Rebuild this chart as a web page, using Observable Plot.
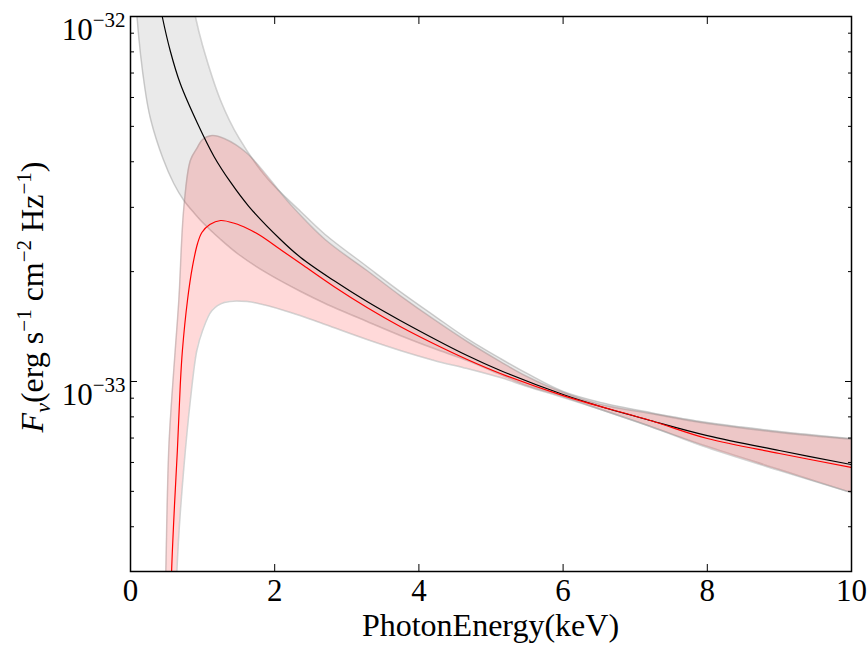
<!DOCTYPE html>
<html><head><meta charset="utf-8">
<script src="https://cdn.jsdelivr.net/npm/d3@7"></script>
<script src="https://cdn.jsdelivr.net/npm/@observablehq/plot@0.6"></script>
<style>body{margin:0;background:#fff;}</style>
</head><body><div id="chart"></div>
<script>
// Flux values are in units of 1e-33 erg s^-1 cm^-2 Hz^-1
const FLUX_UNIT = 1e-33;

// Black model (central curve)
const blackE    = [0.40, 0.44, 0.55, 0.69, 0.93, 1.16, 1.39, 1.64, 2.08, 2.36, 2.82, 3.28, 3.74, 4.67, 5.13, 6.0, 6.52, 7.21, 8.0, 9.0, 10];
const blackFlux = [11.0, 10.0, 8.07, 6.55, 5.09, 4.13, 3.51, 3.02, 2.45, 2.187, 1.89, 1.656, 1.47, 1.178, 1.072, 0.921, 0.854, 0.782, 0.711, 0.647, 0.592];

// Red model (central curve)
const redE    = [0.55, 0.57, 0.61, 0.65, 0.69, 0.72, 0.79, 0.86, 0.93, 0.99, 1.1, 1.25, 1.45, 1.62, 1.8, 2.08, 2.4, 2.82, 3.28, 3.74, 4.2, 4.67, 5.13, 6.0, 7.21, 8.0, 9.0, 10];
const redFlux = [0.2, 0.302, 0.457, 0.647, 0.975, 1.216, 1.667, 2.066, 2.388, 2.56, 2.692, 2.761, 2.709, 2.625, 2.512, 2.299, 2.078, 1.821, 1.595, 1.415, 1.271, 1.149, 1.052, 0.915, 0.782, 0.698, 0.635, 0.581];

// Grey uncertainty band (black model)
const greyE  = [0.02, 0.09, 0.2, 0.28, 0.45, 0.6, 0.74, 0.9, 1.0, 1.25, 1.5, 1.9, 2.36, 2.7, 3.28, 3.74, 4.21, 4.67, 5.13, 5.5, 6.0, 6.52, 7.21, 8.0, 9.0, 10];
const greyLo = [20, 10.0, 6.35, 5.22, 4.08, 3.487, 3.133, 2.868, 2.727, 2.449, 2.228, 1.977, 1.764, 1.636, 1.460, 1.337, 1.231, 1.142, 1.045, 0.975, 0.910, 0.838, 0.753, 0.664, 0.574, 0.496];
const greyHi = [229, 166, 100, 73, 39, 23.6, 15.0, 10.0, 8.33, 5.89, 4.662, 3.598, 2.923, 2.528, 2.066, 1.764, 1.516, 1.311, 1.156, 1.052, 0.939, 0.876, 0.822, 0.772, 0.730, 0.698];

// Pink uncertainty band (red model)
const pinkE  = [0.45, 0.49, 0.53, 0.57, 0.62, 0.67, 0.74, 0.83, 0.92, 1.0, 1.13, 1.3, 1.62, 2.22, 2.7, 3.28, 3.74, 4.21, 4.67, 5.13, 5.5, 6.0, 6.52, 7.21, 8.0, 9.0, 10];
const pinkLo = [0.01, 0.02, 0.05, 0.118, 0.236, 0.379, 0.581, 0.887, 1.216, 1.380, 1.565, 1.646, 1.656, 1.546, 1.432, 1.303, 1.216, 1.142, 1.085, 1.025, 0.969, 0.904, 0.838, 0.753, 0.659, 0.570, 0.496];
const pinkHi = [0.1, 0.302, 0.647, 0.887, 1.216, 1.667, 2.997, 4.033, 4.349, 4.603, 4.72, 4.632, 4.214, 3.055, 2.449, 2.014, 1.720, 1.479, 1.287, 1.134, 1.032, 0.933, 0.865, 0.817, 0.767, 0.725, 0.694];

// Axis ticks
const xTicks = [0, 2, 4, 6, 8, 10];
const yMajorTicks = [1e-33, 1e-32];
const yMinorTicks = [4e-34, 5e-34, 6e-34, 7e-34, 8e-34, 9e-34, 2e-33, 3e-33, 4e-33, 5e-33, 6e-33, 7e-33, 8e-33, 9e-33];
const yDomain = [3.016e-34, 1e-32];

const xLabel = "PhotonEnergy(keV)";

const black = blackE.map((E, i) => ({E, F: blackFlux[i] * FLUX_UNIT}));
const red = redE.map((E, i) => ({E, F: redFlux[i] * FLUX_UNIT}));
const grey = greyE.map((E, i) => ({E, lo: greyLo[i] * FLUX_UNIT, hi: greyHi[i] * FLUX_UNIT}));
const pink = pinkE.map((E, i) => ({E, lo: pinkLo[i] * FLUX_UNIT, hi: pinkHi[i] * FLUX_UNIT}));

const fontFamily = "'Liberation Serif', 'DejaVu Serif', serif";
const curve = "catmull-rom";
const edge = {stroke: "gray", strokeOpacity: 0.35, strokeWidth: 1.5, curve, clip: true};

const chart = Plot.plot({
  width: 868, height: 646,
  marginLeft: 130, marginRight: 17, marginTop: 16, marginBottom: 75,
  style: {fontFamily, fontSize: "31px", background: "white", overflow: "visible"},
  x: {domain: [0, 10]},
  y: {type: "log", domain: yDomain},
  marks: [
    Plot.areaY(grey, {x: "E", y1: "lo", y2: "hi", fill: "gray", fillOpacity: 0.17, curve, clip: true}),
    Plot.lineY(grey, {x: "E", y: "lo", ...edge}),
    Plot.lineY(grey, {x: "E", y: "hi", ...edge}),
    Plot.areaY(pink, {x: "E", y1: "lo", y2: "hi", fill: "red", fillOpacity: 0.15, curve, clip: true}),
    Plot.lineY(pink, {x: "E", y: "lo", ...edge}),
    Plot.lineY(pink, {x: "E", y: "hi", ...edge}),
    Plot.lineY(black, {x: "E", y: "F", stroke: "black", strokeWidth: 1.2, curve, clip: true}),
    Plot.lineY(red, {x: "E", y: "F", stroke: "red", strokeWidth: 1.2, curve, clip: true}),
    // inward ticks on all four sides
    Plot.axisX({anchor: "bottom", ticks: xTicks, tickSize: 7, dy: -7, fill: "none", label: null}),
    Plot.axisX({anchor: "top", ticks: xTicks, tickSize: 7, dy: 7, fill: "none", label: null}),
    Plot.axisY({anchor: "left", ticks: yMajorTicks, tickSize: 7, dx: 7, fill: "none", label: null}),
    Plot.axisY({anchor: "left", ticks: yMinorTicks, tickSize: 4, dx: 4, fill: "none", label: null}),
    Plot.axisY({anchor: "right", ticks: yMajorTicks, tickSize: 7, dx: -7, fill: "none", label: null}),
    Plot.axisY({anchor: "right", ticks: yMinorTicks, tickSize: 4, dx: -4, fill: "none", label: null}),
    // tick labels
    Plot.axisX({anchor: "bottom", ticks: xTicks, tickSize: 0, tickPadding: 7, fontSize: 31, label: null, tickFormat: d => String(d)}),
    Plot.axisY({anchor: "left", ticks: yMajorTicks, tickSize: 0, tickPadding: 5, fontSize: 31, label: null,
      tickFormat: d => "10^" + Math.round(Math.log10(d))}),
    Plot.frame({stroke: "black", strokeWidth: 1.5})
  ]
});

document.getElementById("chart").appendChild(chart);

const svg = d3.select(chart);
// superscript exponents on y tick labels
svg.selectAll('g[aria-label="y-axis tick label"] text').each(function () {
  const t = d3.select(this);
  const s = t.text();
  const parts = s.split("^");
  if (parts.length !== 2) return;
  const exp = parts[1].replace("-", "\u2212");
  t.text(null).attr("dy", null);
  t.append("tspan").attr("dy", 14).text(parts[0]);
  t.append("tspan").attr("dy", -13).attr("font-size", 21).text(exp);
});

// x axis label
svg.append("text")
  .attr("x", 490.5).attr("y", 636)
  .attr("text-anchor", "middle")
  .attr("font-family", fontFamily).attr("font-size", 32).attr("fill", "black")
  .text(xLabel);

// y axis label
const yl = svg.append("text")
  .attr("transform", "translate(43,297) rotate(-90)")
  .attr("text-anchor", "middle")
  .attr("font-family", fontFamily).attr("font-size", 32).attr("fill", "black");
const parts = [
  {t: "F", style: "italic"},
  {t: "\u03bd", style: "italic", size: 22, dy: 7},
  {t: "(erg s", dy: -7},
  {t: "\u22121", size: 21, dy: -12},
  {t: " cm", dy: 12},
  {t: "\u22122", size: 21, dy: -12},
  {t: " Hz", dy: 12},
  {t: "\u22121", size: 21, dy: -12},
  {t: ")", dy: 12}
];
for (const p of parts) {
  const ts = yl.append("tspan").text(p.t);
  if (p.style) ts.attr("font-style", p.style);
  if (p.size) ts.attr("font-size", p.size);
  if (p.dy) ts.attr("dy", p.dy);
}
</script>
</body></html>
